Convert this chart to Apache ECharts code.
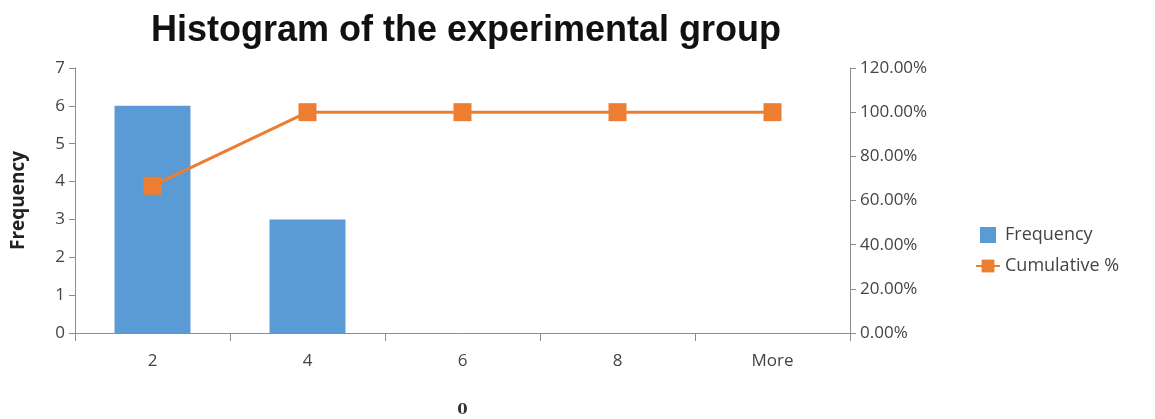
<!DOCTYPE html>
<html><head><meta charset="utf-8">
<script src="https://cdn.jsdelivr.net/npm/echarts@6/dist/echarts.min.js"></script>
<style>html,body{margin:0;padding:0;background:#fff}#c{width:1155px;height:419px}</style>
</head><body><div id="c"></div>
<script>
const categories = ['2', '4', '6', '8', 'More'];
const frequency = [6, 3, 0, 0, 0];
const cumulative = [0.6667, 1, 1, 1, 1];
const leftTicks = {min: 0, max: 7, interval: 1};
const rightTicks = {min: 0, max: 1.2, interval: 0.2};

const chart = echarts.init(document.getElementById('c'));
const axisColor = '#8c8c8c';
const labelFont = {color: '#444', fontSize: 17, fontFamily: 'Open Sans'};
chart.setOption({
  animation: false,
  title: {text: 'Histogram of the experimental group', left: 461, textAlign: 'center', top: 8,
    textStyle: {fontFamily: 'Liberation Sans', fontWeight: 'bold', fontSize: 36, color: '#111'}},
  grid: {left: 75, right: 305, top: 68, bottom: 86, outerBoundsMode: 'none', containLabel: false},
  legend: {orient: 'vertical', left: 970, top: 221, itemGap: 13, itemWidth: 24, itemHeight: 16,
    textStyle: {color: '#444', fontSize: 18, fontFamily: 'Open Sans'},
    data: [{name: 'Frequency', icon: 'path://M4,0h16v16h-16z'}, {name: 'Cumulative %'}]},
  xAxis: {type: 'category', data: categories, boundaryGap: true,
    name: '0', nameLocation: 'middle', nameGap: 70,
    nameTextStyle: {fontFamily: 'DejaVu Serif', fontWeight: 'bold', fontSize: 15, color: '#333'},
    axisLine: {lineStyle: {color: axisColor}},
    axisTick: {show: true, length: 8, alignWithLabel: false, lineStyle: {color: axisColor}},
    axisLabel: Object.assign({margin: 20}, labelFont)},
  yAxis: [
    {type: 'value', min: leftTicks.min, max: leftTicks.max, interval: leftTicks.interval,
      name: 'Frequency', nameLocation: 'middle', nameGap: 47,
      nameTextStyle: {fontFamily: 'Open Sans', fontWeight: 'bold', fontSize: 19, color: '#222'},
      axisLine: {show: true, lineStyle: {color: axisColor}},
      axisTick: {show: true, length: 6, lineStyle: {color: axisColor}},
      splitLine: {show: false},
      axisLabel: Object.assign({margin: 10}, labelFont)},
    {type: 'value', min: rightTicks.min, max: rightTicks.max, interval: rightTicks.interval,
      position: 'right',
      axisLine: {show: true, lineStyle: {color: axisColor}},
      axisTick: {show: true, length: 6, lineStyle: {color: axisColor}},
      splitLine: {show: false},
      axisLabel: Object.assign({margin: 10, formatter: v => (v * 100).toFixed(2) + '%'}, labelFont)}
  ],
  series: [
    {name: 'Frequency', type: 'bar', data: frequency, barWidth: '49%', yAxisIndex: 0,
      itemStyle: {color: '#5B9BD5'}},
    {name: 'Cumulative %', type: 'line', data: cumulative, yAxisIndex: 1,
      symbol: 'rect', symbolSize: 18, showSymbol: true,
      lineStyle: {color: '#ED7D31', width: 3},
      itemStyle: {color: '#ED7D31'}}
  ]
});
</script></body></html>
